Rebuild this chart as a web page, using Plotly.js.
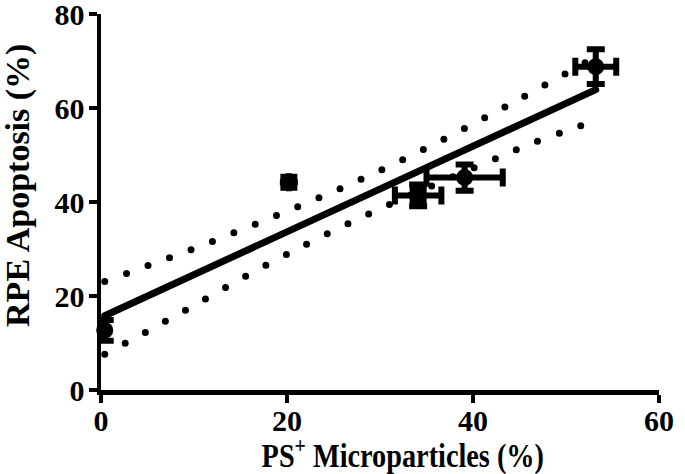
<!DOCTYPE html>
<html>
<head>
<meta charset="utf-8">
<script src="https://cdn.plot.ly/plotly-3.0.1.min.js"></script>
<style>
html,body{margin:0;padding:0;background:#fff;}
#chart{width:685px;height:474px;}
</style>
</head>
<body>
<div id="chart"></div>
<script>
// Circle-marker data (mean ± error; null = no bar)
const circleX = [0.4, 39.1, 53.2];
const circleY = [12.7, 45.2, 68.8];
const circleXErr = [null, 4.1, 2.2];
const circleYErr = [2.2, 2.8, 3.7];

// Square-marker data (mean ± error; null = no bar)
const squareX = [20.2, 34.1];
const squareY = [44.2, 41.4];
const squareXErr = [null, 2.5];
const squareYErr = [null, 2.3];

// Regression line endpoints
const fitX = [0.4, 53.2];
const fitY = [15.8, 63.9];

// 95% confidence band
const upperX = [0.4, 5.2, 9.75, 18.7, 27.6, 36.5, 44.9, 53.2];
const upperY = [23.1, 26.6, 29.9, 37.0, 44.5, 53.0, 61.8, 70.9];
const lowerX = [0.4, 4.9, 9.1, 17.6, 24.1, 30.6, 41.8, 46.1, 50.7, 53.2];
const lowerY = [7.6, 12.4, 17.0, 26.4, 33.0, 39.1, 48.7, 52.3, 55.6, 57.4];

const xTicks = [0, 20, 40, 60];
const yTicks = [0, 20, 40, 60, 80];
const xTitle = 'PS<sup>+</sup> Microparticles (%)';
const yTitle = 'RPE Apoptosis (%)';

const FAM = 'Liberation Serif, Times New Roman, serif';
const TICKFONT = {family: FAM, size: 30, color: '#000', weight: 'bold'};
const XTFONT = {family: FAM, size: 33, color: '#000', weight: 'bold'};
const YTFONT = {family: FAM, size: 34, color: '#000', weight: 'bold'};

const traces = [
  {x: upperX, y: upperY, mode: 'lines', line: {color: '#000', width: 7, dash: '0px,23px', shape: 'spline'}, hoverinfo: 'skip', cliponaxis: false},
  {x: lowerX, y: lowerY, mode: 'lines', line: {color: '#000', width: 7, dash: '0px,23px', shape: 'spline'}, hoverinfo: 'skip', cliponaxis: false},
  {x: fitX, y: fitY, mode: 'lines', line: {color: '#000', width: 7}, hoverinfo: 'skip', cliponaxis: false},
  {x: squareX, y: squareY, mode: 'markers', marker: {symbol: 'square', size: 17, color: '#000'},
   error_x: {type: 'data', array: squareXErr, color: '#000', thickness: 6, width: 9},
   error_y: {type: 'data', array: squareYErr, color: '#000', thickness: 6, width: 9}, cliponaxis: false},
  {x: circleX, y: circleY, mode: 'markers', marker: {symbol: 'circle', size: 17, color: '#000'},
   error_x: {type: 'data', array: circleXErr, color: '#000', thickness: 6, width: 9},
   error_y: {type: 'data', array: circleYErr, color: '#000', thickness: 6, width: 9}, cliponaxis: false}
];

const axisCommon = {
  showgrid: false, zeroline: false, showline: true, linecolor: '#000', linewidth: 4.5,
  ticks: 'outside', ticklen: 8, tickwidth: 4.5, tickcolor: '#000', tickfont: TICKFONT,
  ticklabeloverflow: 'allow', fixedrange: true
};

const layout = {
  width: 685, height: 474,
  margin: {l: 101, r: 26, t: 14, b: 84},
  paper_bgcolor: '#fff', plot_bgcolor: '#fff',
  showlegend: false,
  xaxis: Object.assign({}, axisCommon, {range: [0, 60], tickvals: xTicks, ticktext: xTicks.map(String), ticklabelstandoff: -8}),
  yaxis: Object.assign({}, axisCommon, {range: [0, 80], tickvals: yTicks, ticktext: yTicks.map(String), ticklabelstandoff: -2}),
  annotations: [
    {text: xTitle, xref: 'paper', yref: 'paper', x: 0.541, y: -0.168, xanchor: 'center', yanchor: 'middle', showarrow: false, font: XTFONT},
    {text: yTitle, xref: 'paper', yref: 'paper', x: -0.149, y: 0.545, xanchor: 'center', yanchor: 'middle', textangle: -90, showarrow: false, font: YTFONT}
  ]
};

function squeeze(el, s) {
  const b = el.getBBox();
  const cx = b.x + b.width / 2;
  const t = el.getAttribute('transform') || '';
  el.setAttribute('transform', t + ' translate(' + cx + ',0) scale(' + s + ',1) translate(' + (-cx) + ',0)');
}

Plotly.newPlot('chart', traces, layout, {staticPlot: true}).then(function () {
  document.querySelectorAll('.scatterlayer path.js-line').forEach(function (p) {
    p.style.strokeLinecap = 'round';
  });
  // reference text is horizontally condensed
  const ann = document.querySelectorAll('.annotation-text');
  if (ann.length) squeeze(ann[0], 0.857);
});
</script>
</body>
</html>
